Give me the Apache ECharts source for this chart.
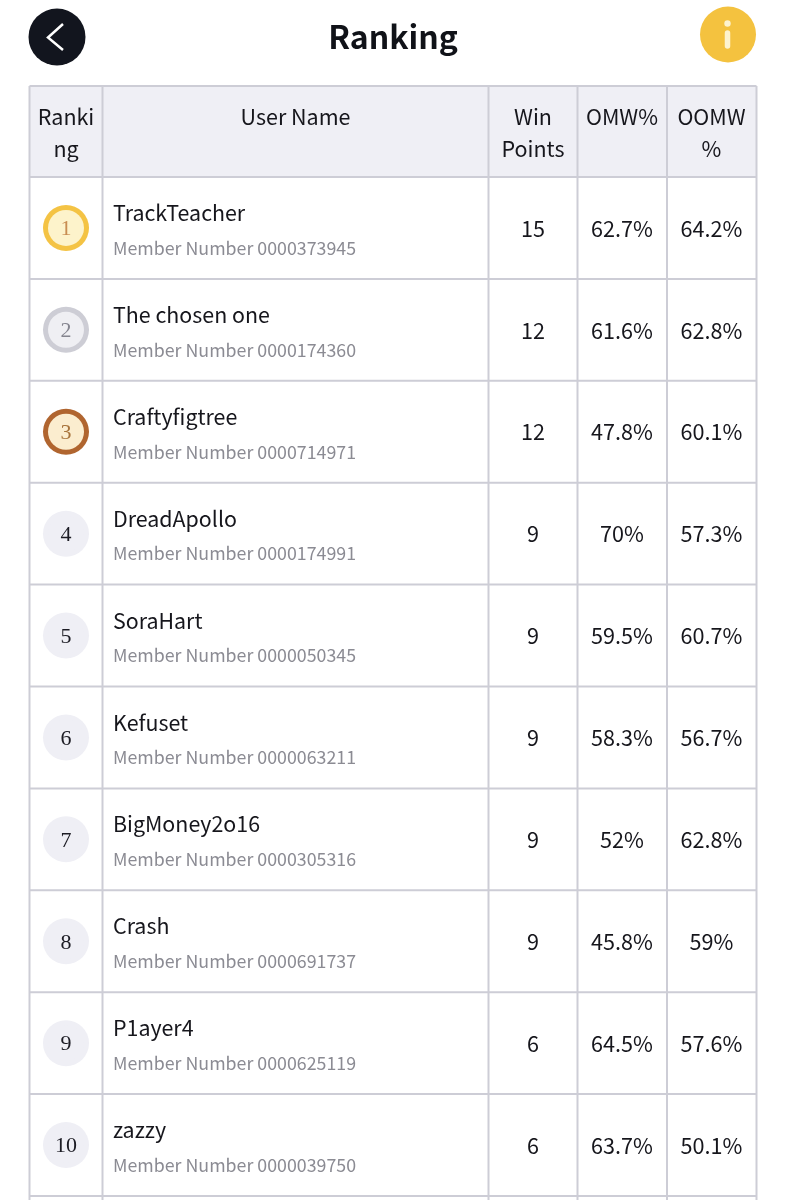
<!DOCTYPE html>
<html>
<head>
<meta charset="utf-8">
<title>Ranking</title>
<style>
html, body { margin: 0; padding: 0; background: #fff; }
#main { width: 786px; height: 1200px; }
</style>
<script src="https://cdn.jsdelivr.net/npm/echarts@6/dist/echarts.min.js"></script>
</head>
<body>
<div id="main"></div>
<script>
// table data
var ranks = [1, 2, 3, 4, 5, 6, 7, 8, 9, 10];
var userNames = ['TrackTeacher', 'The chosen one', 'Craftyfigtree', 'DreadApollo', 'SoraHart', 'Kefuset', 'BigMoney2o16', 'Crash', 'P1ayer4', 'zazzy'];
var memberNumbers = ['0000373945', '0000174360', '0000714971', '0000174991', '0000050345', '0000063211', '0000305316', '0000691737', '0000625119', '0000039750'];
var winPoints = [15, 12, 12, 9, 9, 9, 9, 9, 6, 6];
var omw = [62.7, 61.6, 47.8, 70, 59.5, 58.3, 52, 45.8, 64.5, 63.7];
var oomw = [64.2, 62.8, 60.1, 57.3, 60.7, 56.7, 62.8, 59, 57.6, 50.1];

var FONT = '"Noto Sans CJK JP", "Noto Sans", sans-serif';
var LINE = '#cdcdd6';
var colEdges = [29.5, 102.5, 488.5, 577.5, 667, 756.5];
var tableTop = 86, headTop = 177, rowsBottom = 1196;

// medal colours: ring, fill, number
var medals = {
    1: ['#f4c344', '#fdf3cb', '#c98d52'],
    2: ['#cdcdd5', '#efeff3', '#85858f'],
    3: ['#b0652f', '#fbedcf', '#a8743c']
};
var plainBadge = ['#efeff5', '#efeff5', '#1c1c24'];

function renderRow(params, api) {
    var i = params.dataIndex;
    var c = api.coord([0, api.value(1)]);
    var cy = c[1];
    var bandH = api.size([0, 1])[1];
    var badge = medals[ranks[i]] || plainBadge;
    var toX = function (x) { return api.coord([x, 0])[0]; };
    var cell = function (x, y, text, size, fill, align) {
        return {
            type: 'text',
            style: {
                text: text, x: toX(x), y: y, fill: fill, align: align || 'center', verticalAlign: 'middle',
                font: size + 'px ' + FONT
            }
        };
    };
    return {
        type: 'group',
        children: [
            // bottom border of the row
            { type: 'line', shape: { x1: toX(colEdges[0]), y1: cy + bandH / 2, x2: toX(colEdges[5]), y2: cy + bandH / 2 }, style: { stroke: LINE, lineWidth: 2 } },
            { type: 'circle', shape: { cx: toX(66), cy: cy, r: 23 }, style: { fill: badge[0] } },
            { type: 'circle', shape: { cx: toX(66), cy: cy, r: 18 }, style: { fill: badge[1] } },
            {
                type: 'text',
                style: {
                    text: String(ranks[i]), x: toX(66), y: cy + 1.5, fill: badge[2], align: 'center', verticalAlign: 'middle',
                    font: '22px "Liberation Serif", serif'
                }
            },
            cell(113, cy - 15, userNames[i], 21.4, '#16161c', 'left'),
            cell(113, cy + 20, 'Member Number ' + memberNumbers[i], 17.8, '#8b8b93', 'left'),
            cell(533, cy + 0.5, String(winPoints[i]), 21.6, '#16161c'),
            cell(622, cy + 0.5, omw[i] + '%', 21.6, '#16161c'),
            cell(711.5, cy + 0.5, oomw[i] + '%', 21.6, '#16161c')
        ]
    };
}

function headText(x, y, text) {
    return { type: 'text', z: 20, style: { text: text, x: x, y: y, fill: '#16161c', align: 'center', verticalAlign: 'middle', font: '21.5px ' + FONT } };
}

var graphics = [
    // title bar
    { type: 'text', style: { text: 'Ranking', x: 393, y: 37, fill: '#101218', align: 'center', verticalAlign: 'middle', font: 'bold 32px ' + FONT } },
    { type: 'circle', shape: { cx: 57, cy: 37, r: 28.5 }, style: { fill: '#12151e' } },
    { type: 'polyline', shape: { points: [[63, 24], [48, 37.5], [63, 50]] }, style: { fill: null, stroke: '#fff', lineWidth: 2.5 } },
    { type: 'circle', shape: { cx: 728, cy: 34.5, r: 28 }, style: { fill: '#f4c23f' } },
    { type: 'circle', shape: { cx: 727.5, cy: 23.5, r: 3.2 }, style: { fill: '#fdf3cf' } },
    { type: 'line', shape: { x1: 727.5, y1: 33, x2: 727.5, y2: 46 }, style: { stroke: '#fdf3cf', lineWidth: 5.5, lineCap: 'round' } },
    // table head
    { type: 'rect', shape: { x: colEdges[0], y: tableTop, width: colEdges[5] - colEdges[0], height: headTop - tableTop }, style: { fill: '#efeff5' } },
    { type: 'line', shape: { x1: colEdges[0], y1: tableTop, x2: colEdges[5], y2: tableTop }, style: { stroke: LINE, lineWidth: 2 } },
    { type: 'line', z: 20, shape: { x1: colEdges[0], y1: headTop, x2: colEdges[5], y2: headTop }, style: { stroke: LINE, lineWidth: 2 } },
    headText(66, 117, 'Ranki'),
    headText(66, 149, 'ng'),
    headText(295.5, 117, 'User Name'),
    headText(533, 117, 'Win'),
    headText(533, 149, 'Points'),
    headText(622, 117, 'OMW%'),
    headText(711.5, 117, 'OOMW'),
    headText(711.5, 149, '%')
];
// column rules run on past the last row
colEdges.forEach(function (x) {
    graphics.push({ type: 'line', z: 20, shape: { x1: x, y1: tableTop, x2: x, y2: 1200 }, style: { stroke: LINE, lineWidth: 2 } });
});

var chart = echarts.init(document.getElementById('main'));

var option = {
    animation: false,
    backgroundColor: '#fff',
    grid: { left: 0, right: 0, top: headTop, height: rowsBottom - headTop },
    xAxis: { type: 'value', min: 0, max: 786, show: false },
    yAxis: { type: 'category', inverse: true, data: ranks, show: false },
    graphic: graphics,
    series: [
        {
            type: 'custom',
            renderItem: renderRow,
            encode: { x: 0, y: 1 },
            data: ranks.map(function (r, i) { return [66, i]; })
        }
    ]
};
chart.setOption(option);
</script>
</body>
</html>
